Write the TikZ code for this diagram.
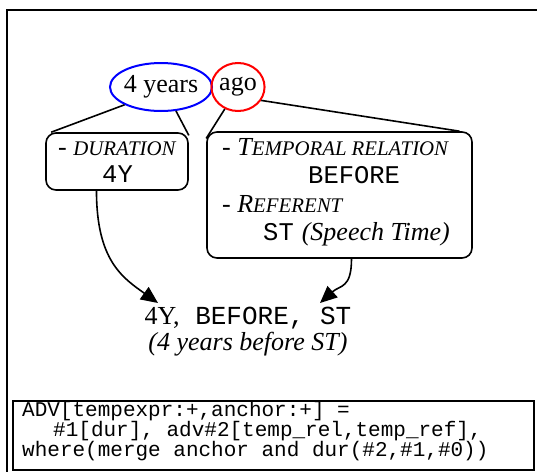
\documentclass[tikz,border=0pt]{standalone}
\usepackage{fontspec}
\setmainfont{Liberation Serif}
\setmonofont{Liberation Mono}
\usetikzlibrary{shapes.geometric,arrows.meta}
\newcommand\fsc[1]{{\fontsize{20.8}{22}\selectfont #1}}
\begin{document}
\begin{tikzpicture}[x=1pt,y=-1pt,
  every node/.style={inner sep=0pt, font=\fontsize{26}{28}\selectfont},
  box/.style={draw, rounded corners=10pt, line width=1.6pt},
  conn/.style={line width=1.6pt},
  arr/.style={line width=1.6pt, -{Triangle[length=17pt,width=15pt]}},
  lbl/.style={anchor=base west},
  ttl/.style={anchor=base west, font=\fontsize{25.5}{28}\selectfont\ttfamily},
  codeline/.style={anchor=base west, font=\fontsize{21}{20}\selectfont\ttfamily}]
\useasboundingbox (0,0) rectangle (537,471);
\clip (0,0) rectangle (537,471);
\draw[line width=2pt] (7,10) rectangle (620,560);

% top words
\node[draw=blue, line width=2pt, ellipse, inner xsep=-1.2pt, minimum width=102pt, minimum height=48pt] (yrs) at (161,87) {4 years};
\node[draw=red, line width=2pt, ellipse, minimum width=52pt, minimum height=48pt] (ago) at (238,87) {ago};

% boxes
\node[box, minimum width=142pt, minimum height=57pt] (dur) at (117,161.5) {};
\node[box, minimum width=265pt, minimum height=126pt] (big) at (339.5,195) {};

% box texts
\node[lbl] (durl) at (58,155) {- \textit{\fsc{DURATION}}};
\node[ttl] (durv) at (102,182) {4Y};
\node[lbl] (rell) at (222,155) {- \textit{T\fsc{EMPORAL RELATION}}};
\node[ttl] (relv) at (308,183.5) {BEFORE};
\node[lbl] (refl) at (222,212) {- \textit{R\fsc{EFERENT}}};
\node[lbl] (refv) at (263,240.5) {\fontsize{25.5}{28}\selectfont\ttfamily ST\hspace{8pt}\rmfamily\fontsize{26}{28}\selectfont\textit{(Speech Time)}};

% connectors from words to boxes
\draw[conn] (yrs.206) -- (dur.156);
\draw[conn] (yrs.302) -- (dur.20);
\draw[conn] (ago.239) -- (big.157.6);
\draw[conn] (ago.330) -- (big.28.6);

% result
\node[align=center, anchor=north, inner ysep=4.4pt, font=\fontsize{26}{26}\selectfont] (res) at (248,303)
  {4Y,\texttt{ BEFORE, ST}\\\textit{(4 years before ST)}};

\draw[arr] (dur.235) .. controls +(0,70) and +(-35,-25) .. ([xshift=-90pt]res.north);
\draw[arr] ([xshift=12pt]big.south) .. controls +(0,30) and +(20,-18) .. ([xshift=72pt]res.north);

% code box
\node[draw, line width=1.6pt, anchor=north west, minimum width=521pt, minimum height=69pt] (code) at (12,400) {};
\node[codeline] (c1) at (22,416) {ADV[tempexpr:+,anchor:+] =};
\node[codeline] (c2) at (22,436) {\hspace*{31pt}\#1[dur], adv\#2[temp\_rel,temp\_ref],};
\node[codeline] (c3) at (22,456) {where(merge anchor and dur(\#2,\#1,\#0))};
\end{tikzpicture}
\end{document}
